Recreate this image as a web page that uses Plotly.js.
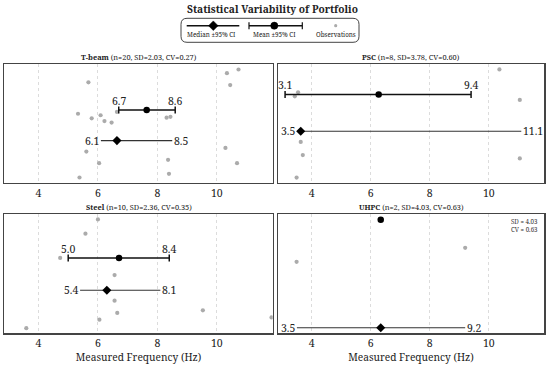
<!DOCTYPE html>
<html><head><meta charset="utf-8">
<script src="https://cdn.plot.ly/plotly-3.0.1.min.js"></script>
<style>html,body{margin:0;padding:0;background:#fff;}#chart{width:550px;height:365px;}</style>
</head><body><div id="chart"></div>
<script>
// ---- data ----
const groups   = ['T-beam', 'PSC', 'Steel', 'UHPC'];
const nObs     = [20, 8, 10, 2];
const sdVals   = [2.03, 3.78, 2.36, 4.03];
const cvVals   = [0.27, 0.60, 0.35, 0.63];
const meanVals = [7.64, 6.27, 6.71, 6.34];
const meanLo   = [6.7, 3.1, 5.0, null];
const meanHi   = [8.6, 9.4, 8.4, null];
const medVals  = [6.64, 3.63, 6.30, 6.34];
const medLo    = [6.1, 3.5, 5.4, 3.5];
const medHi    = [8.5, 11.1, 8.1, 9.2];
// observations (frequency, vertical jitter; median row = 0, mean row = 1)
const obsX_Tbeam = [10.73,10.34,5.68,10.45,6.64,5.33,6.09,5.79,6.22,6.46,8.31,8.44,5.61,10.29,8.36,6.04,10.68,8.39,5.38];
const obsY_Tbeam = [2.33,2.21,1.91,1.82,0.94,0.88,0.83,0.73,0.64,0.59,0.75,0.78,-0.36,-0.24,-0.63,-0.74,-0.74,-1.09,-1.21];
const obsX_PSC   = [10.36,3.54,3.43,11.05,3.63,3.70,11.05,3.49];
const obsY_PSC   = [1.68,1.06,0.95,0.85,-0.29,-0.65,-0.74,-1.26];
const obsX_Steel = [6.00,5.58,4.73,6.56,6.56,6.65,9.53,11.84,6.05,3.59];
const obsY_Steel = [2.19,1.75,1.00,0.47,-0.32,-0.70,-0.62,-0.84,-0.91,-1.17];
const obsX_UHPC  = [3.49,9.20];
const obsY_UHPC  = [0.61,0.74];
const obsX = [obsX_Tbeam, obsX_PSC, obsX_Steel, obsX_UHPC];
const obsY = [obsY_Tbeam, obsY_PSC, obsY_Steel, obsY_UHPC];
const xTicks = [4, 6, 8, 10];

// ---- layout helpers ----
const W = 550, H = 365;
const fx = x => x / W, fy = y => 1 - y / H;
const FONT = 'Noto Serif, DejaVu Serif, serif';
const boxes = [ // pixel boxes [left, right, top, bottom]
  [4.3, 272.7, 64.3, 182.7],
  [277.7, 544.3, 64.3, 182.7],
  [4.3, 272.7, 214.3, 333.3],
  [277.7, 544.3, 214.3, 333.3]
];
const yRanges = [[-1.38, 2.50], [-1.40, 1.82], [-1.33, 2.35], [-0.052, 1.05]];
const xRange = [2.85, 11.88];

const traces = [];
const annotations = [];
const shapes = [];
const layout = {
  width: W, height: H, margin: {l: 0, r: 0, t: 0, b: 0},
  paper_bgcolor: '#fff', plot_bgcolor: '#fff', showlegend: false,
  font: {family: FONT, color: '#222'},
  annotations, shapes
};
const LBL = 10.5;

groups.forEach((g, k) => {
  const s = k === 0 ? '' : String(k + 1);
  const b = boxes[k];
  const xa = 'x' + s, ya = 'y' + s;
  layout['xaxis' + s] = {
    domain: [fx(b[0]), fx(b[1])], anchor: ya, range: xRange,
    tickvals: xTicks, ticks: '', showgrid: true, gridcolor: '#dcdcdc', griddash: 'dot', gridwidth: 1,
    zeroline: false, showline: true, mirror: true, linecolor: '#444', linewidth: 1.2,
    tickfont: {size: 10.5, color: '#222', family: FONT},
    title: k >= 2 ? {text: 'Measured Frequency (Hz)', font: {size: 10.2, family: FONT, color: '#222'}, standoff: 4} : {text: ''}
  };
  layout['yaxis' + s] = {
    domain: [fy(b[3]), fy(b[2])], anchor: xa, range: yRanges[k],
    showticklabels: false, ticks: '', showgrid: false, zeroline: false,
    showline: true, mirror: true, linecolor: '#444', linewidth: 1.2
  };
  // panel title
  annotations.push({
    xref: 'paper', yref: 'paper', x: fx((b[0] + b[1]) / 2), y: fy(b[2] - 7),
    xanchor: 'center', yanchor: 'middle', showarrow: false,
    text: '<b>' + g + '</b> (n=' + nObs[k] + ', SD=' + sdVals[k].toFixed(2) + ', CV=' + cvVals[k].toFixed(2) + ')',
    font: {size: 7.4, family: FONT, color: '#222'}
  });
  // observations
  traces.push({type: 'scatter', mode: 'markers', x: obsX[k], y: obsY[k], xaxis: xa, yaxis: ya,
    marker: {color: '#ababab', size: 4.2}, hoverinfo: 'x'});
  // median
  traces.push({type: 'scatter', mode: 'markers', x: [medVals[k]], y: [0], xaxis: xa, yaxis: ya,
    marker: {color: '#000', size: 7, symbol: 'diamond'},
    error_x: {type: 'data', symmetric: false, array: [medHi[k] - medVals[k]], arrayminus: [medVals[k] - medLo[k]],
      width: 0, thickness: 1.1, color: '#333'}});
  annotations.push({xref: xa, yref: ya, x: medLo[k], y: 0, xanchor: 'right', yanchor: 'middle', showarrow: false,
    text: medLo[k].toFixed(1), font: {size: LBL, family: FONT, color: '#222'}, xshift: 0});
  annotations.push({xref: xa, yref: ya, x: medHi[k], y: 0, xanchor: 'left', yanchor: 'middle', showarrow: false,
    text: medHi[k].toFixed(1), font: {size: LBL, family: FONT, color: '#222'}, xshift: 0});
  // mean
  const mt = {type: 'scatter', mode: 'markers', x: [meanVals[k]], y: [1], xaxis: xa, yaxis: ya,
    marker: {color: '#000', size: 6.5, symbol: 'circle'}};
  if (meanLo[k] !== null) {
    mt.error_x = {type: 'data', symmetric: false, array: [meanHi[k] - meanVals[k]], arrayminus: [meanVals[k] - meanLo[k]],
      width: 3.5, thickness: 1.5, color: '#111'};
    annotations.push({xref: xa, yref: ya, x: meanLo[k], y: 1, xanchor: 'center', yanchor: 'middle', showarrow: false,
      text: meanLo[k].toFixed(1), font: {size: LBL, family: FONT, color: '#222'}, yshift: 9});
    annotations.push({xref: xa, yref: ya, x: meanHi[k], y: 1, xanchor: 'center', yanchor: 'middle', showarrow: false,
      text: meanHi[k].toFixed(1), font: {size: LBL, family: FONT, color: '#222'}, yshift: 9});
  }
  traces.push(mt);
});

// UHPC SD/CV note
annotations.push({xref: 'paper', yref: 'paper', x: fx(509), y: fy(225), xanchor: 'left', yanchor: 'middle',
  showarrow: false, align: 'left', text: 'SD = ' + sdVals[3].toFixed(2) + '<br>CV = ' + cvVals[3].toFixed(2),
  font: {size: 6.2, family: FONT, color: '#333'}});

// main title
annotations.push({xref: 'paper', yref: 'paper', x: fx(272.5), y: fy(9), xanchor: 'center', yanchor: 'middle',
  showarrow: false, text: '<b>Statistical Variability of Portfolio</b>', font: {size: 10.2, family: FONT, color: '#222'}});

// ---- custom legend ----
(function () {
  const L = 181, R = 359, T = 18.3, B = 42.3, r = 6;
  const p = (x, y) => fx(x) + ',' + fy(y);
  shapes.push({type: 'path', xref: 'paper', yref: 'paper', layer: 'above',
    path: 'M' + p(L + r, T) + ' L' + p(R - r, T) + ' Q' + p(R, T) + ' ' + p(R, T + r) +
      ' L' + p(R, B - r) + ' Q' + p(R, B) + ' ' + p(R - r, B) + ' L' + p(L + r, B) + ' Q' + p(L, B) + ' ' + p(L, B - r) +
      ' L' + p(L, T + r) + ' Q' + p(L, T) + ' ' + p(L + r, T) + ' Z',
    line: {color: '#444', width: 1}, fillcolor: '#fff'});
  const ly = 25.7;
  // median handle
  shapes.push({type: 'line', xref: 'paper', yref: 'paper', layer: 'above', x0: fx(186.7), x1: fx(239.3), y0: fy(ly), y1: fy(ly), line: {color: '#111', width: 1.5}});
  const dc = 213.3, dr = 4.8;
  shapes.push({type: 'path', xref: 'paper', yref: 'paper', layer: 'above',
    path: 'M' + p(dc, ly - dr) + ' L' + p(dc + dr, ly) + ' L' + p(dc, ly + dr) + ' L' + p(dc - dr, ly) + ' Z',
    line: {color: '#000', width: 0.5}, fillcolor: '#000'});
  // mean handle
  shapes.push({type: 'line', xref: 'paper', yref: 'paper', layer: 'above', x0: fx(249), x1: fx(302.3), y0: fy(ly), y1: fy(ly), line: {color: '#111', width: 1.5}});
  [249, 302.3].forEach(cx => shapes.push({type: 'line', xref: 'paper', yref: 'paper', layer: 'above', x0: fx(cx), x1: fx(cx), y0: fy(ly - 3.5), y1: fy(ly + 3.5), line: {color: '#111', width: 1.2}}));
  const cr = 3.6, cc = 274.3;
  shapes.push({type: 'circle', xref: 'paper', yref: 'paper', layer: 'above', x0: fx(cc - cr), x1: fx(cc + cr), y0: fy(ly + cr), y1: fy(ly - cr), line: {color: '#000', width: 0.5}, fillcolor: '#000'});
  // observations handle
  const orr = 1.6, oc = 335.7;
  shapes.push({type: 'circle', xref: 'paper', yref: 'paper', layer: 'above', x0: fx(oc - orr), x1: fx(oc + orr), y0: fy(ly + orr), y1: fy(ly - orr), line: {width: 0}, fillcolor: '#ababab'});
  [['Median ±95% CI', 211.7], ['Mean ±95% CI', 274.3], ['Observations', 335.7]].forEach(([t, x]) =>
    annotations.push({xref: 'paper', yref: 'paper', x: fx(x), y: fy(34.7), xanchor: 'center', yanchor: 'middle', showarrow: false,
      text: t, font: {size: 6.3, family: FONT, color: '#222'}}));
})();

Plotly.newPlot('chart', traces, layout, {displayModeBar: false, staticPlot: true});
</script></body></html>
